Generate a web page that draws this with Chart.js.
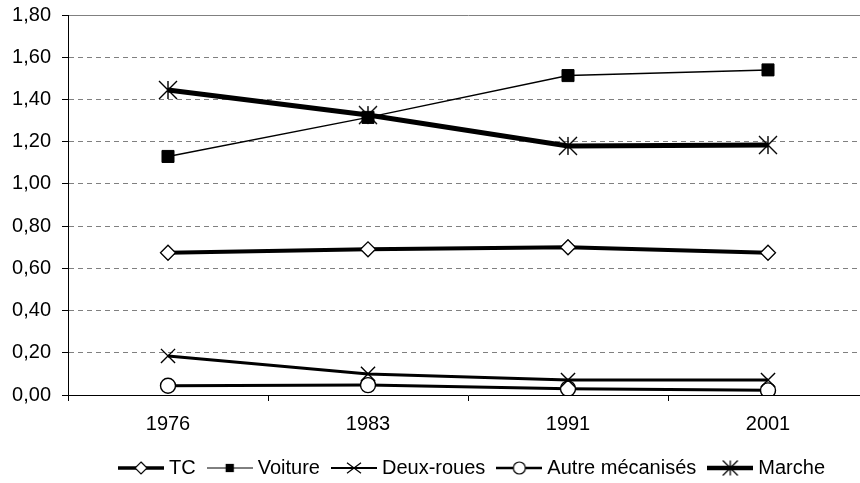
<!DOCTYPE html>
<html>
<head>
<meta charset="utf-8">
<script src="https://cdn.jsdelivr.net/npm/chart.js@4/dist/chart.umd.min.js"></script>
<style>
	html, body { margin: 0; padding: 0; background: #fff; overflow: hidden; }
	canvas { display: block; }
</style>
</head>
<body>
<canvas id="chart" width="870" height="483"></canvas>
<script>
const years = ["1976", "1983", "1991", "2001"];
const tc = [0.674, 0.690, 0.700, 0.674];
const voiture = [1.13, 1.315, 1.513, 1.54];
const deuxRoues = [0.185, 0.10, 0.071, 0.071];
const autreMeca = [0.044, 0.047, 0.030, 0.022];
const marche = [1.445, 1.326, 1.18, 1.184];
const seriesNames = ["TC", "Voiture", "Deux-roues", "Autre mécanisés", "Marche"];
const yMin = 0;
const yMax = 1.8;
const yStep = 0.2;

const FONT = "'Liberation Sans', Arial, sans-serif";
const LEGEND_END = 825;

Chart.defaults.font.family = FONT;
Chart.defaults.font.size = 20;
Chart.defaults.color = "#000";

function fmtTick(v) {
	return Number(v).toFixed(2).replace(".", ",");
}

// 6-ray asterisk used for "Marche"
function asterisk(size, lw) {
	const c = document.createElement("canvas");
	c.width = size + 2;
	c.height = size + 2;
	const g = c.getContext("2d");
	const m = (size + 2) / 2;
	const r = size / 2;
	g.strokeStyle = "#000";
	g.lineWidth = lw;
	g.beginPath();
	g.moveTo(m, m - r); g.lineTo(m, m + r);
	g.moveTo(m - r, m - r); g.lineTo(m + r, m + r);
	g.moveTo(m + r, m - r); g.lineTo(m - r, m + r);
	g.stroke();
	return c;
}

function drawMarker(g, kind, x, y, s) {
	g.strokeStyle = "#000";
	g.lineWidth = 1.2;
	g.beginPath();
	if (kind === "diamond") {
		g.moveTo(x, y - s); g.lineTo(x + s, y); g.lineTo(x, y + s); g.lineTo(x - s, y); g.closePath();
		g.fillStyle = "#fff"; g.fill(); g.stroke();
	} else if (kind === "square") {
		g.fillStyle = "#000"; g.fillRect(x - s * 0.75, y - s * 0.75, s * 1.5, s * 1.5);
	} else if (kind === "x") {
		g.moveTo(x - s, y - s * 0.75); g.lineTo(x + s, y + s * 0.75);
		g.moveTo(x + s, y - s * 0.75); g.lineTo(x - s, y + s * 0.75);
		g.stroke();
	} else if (kind === "circle") {
		g.arc(x, y, s, 0, Math.PI * 2);
		g.fillStyle = "#fff"; g.fill(); g.stroke();
	} else if (kind === "star") {
		g.lineWidth = 1.3;
		g.moveTo(x, y - s); g.lineTo(x, y + s);
		g.moveTo(x - s, y - s); g.lineTo(x + s, y + s);
		g.moveTo(x + s, y - s); g.lineTo(x - s, y + s);
		g.stroke();
	}
}

// legend symbol: a short line with the marker in its middle
function legendSymbol(lineW, kind, s) {
	const c = document.createElement("canvas");
	c.width = 46;
	c.height = 20;
	const g = c.getContext("2d");
	g.strokeStyle = "#000";
	g.lineWidth = lineW;
	g.beginPath();
	g.moveTo(0, 10); g.lineTo(46, 10);
	g.stroke();
	drawMarker(g, kind, 23, 10, s);
	return c;
}

const legendIcons = [
	legendSymbol(3.5, "diamond", 6),
	legendSymbol(1, "square", 5.5),
	legendSymbol(2, "x", 7),
	legendSymbol(2.5, "circle", 6),
	legendSymbol(4.5, "star", 7.5)
];

// slide the legend row so that its last text ends where the reference does
const legendShift = {
	id: "legendShift",
	afterLayout(chart) {
		const lg = chart.legend;
		const pad = lg.options.labels.padding;
		const firstX = (lg.left + pad + lg.right - lg.lineWidths[0]) / 2;
		const endX = firstX + lg.lineWidths[0] - pad;
		const d = LEGEND_END - endX;
		lg.left += d;
		lg.right += d;
	}
};

const gridColor = (ctx) => (ctx.tick && (ctx.tick.value === yMin || ctx.tick.value === yMax)) ? "rgba(0,0,0,0)" : "#808080";
const noSidePad = (scale) => { scale.paddingLeft = 0; scale.paddingRight = 0; };

new Chart(document.getElementById("chart"), {
	type: "line",
	data: {
		labels: years,
		datasets: [
			{ label: seriesNames[0], data: tc, borderColor: "#000", borderWidth: 4, pointStyle: "rectRot", pointRadius: 7.5, pointBackgroundColor: "#fff", pointBorderColor: "#000", pointBorderWidth: 1.3 },
			{ label: seriesNames[1], data: voiture, borderColor: "#000", borderWidth: 1.5, pointStyle: "rect", pointRadius: 8.5, pointBackgroundColor: "#000", pointBorderColor: "#000", pointBorderWidth: 1 },
			{ label: seriesNames[2], data: deuxRoues, borderColor: "#000", borderWidth: 3, pointStyle: "crossRot", pointRadius: 10, pointBorderColor: "#000", pointBorderWidth: 1.4 },
			{ label: seriesNames[3], data: autreMeca, borderColor: "#000", borderWidth: 3, pointStyle: "circle", pointRadius: 7.5, pointBackgroundColor: "#fff", pointBorderColor: "#000", pointBorderWidth: 1.4 },
			{ label: seriesNames[4], data: marche, borderColor: "#000", borderWidth: 5, pointStyle: asterisk(18, 1.4), pointRadius: 9 }
		]
	},
	options: {
		responsive: false,
		animation: false,
		layout: { autoPadding: false, padding: { top: 15, right: 2, left: 0, bottom: -5 } },
		elements: { line: { tension: 0 } },
		plugins: {
			tooltip: { enabled: false },
			legend: {
				position: "bottom",
				labels: {
					usePointStyle: true,
					pointStyleWidth: 36,
					boxHeight: 20,
					padding: 16,
					font: { size: 20 },
					generateLabels: (chart) => chart.data.datasets.map((ds, i) => ({
						text: ds.label,
						pointStyle: legendIcons[i],
						fillStyle: "#000",
						strokeStyle: "#000",
						lineWidth: 0,
						hidden: false,
						datasetIndex: i,
						fontColor: "#000"
					}))
				}
			}
		},
		scales: {
			x: {
				offset: true,
				afterFit: (scale) => { scale.height = 47; noSidePad(scale); },
				grid: { drawOnChartArea: false, offset: true, tickLength: 6, tickColor: "#000" },
				border: { color: "#000", width: 1 },
				ticks: { padding: 11, font: { size: 20 } }
			},
			xTop: {
				type: "category",
				position: "top",
				labels: years,
				offset: true,
				afterFit: noSidePad,
				ticks: { display: false },
				grid: { display: false, drawTicks: false },
				border: { display: true, color: "#808080", width: 1 }
			},
			y: {
				min: yMin,
				max: yMax,
				afterFit: (scale) => { scale.width = 68; scale.paddingTop = 0; scale.paddingBottom = 0; },
				ticks: { stepSize: yStep, padding: 11, callback: fmtTick, font: { size: 20 } },
				grid: { color: gridColor, tickColor: "#000", tickLength: 6, lineWidth: 1 },
				border: { color: "#000", width: 1, dash: [5, 4] }
			}
		}
	},
	plugins: [legendShift]
});
</script>
</body>
</html>
